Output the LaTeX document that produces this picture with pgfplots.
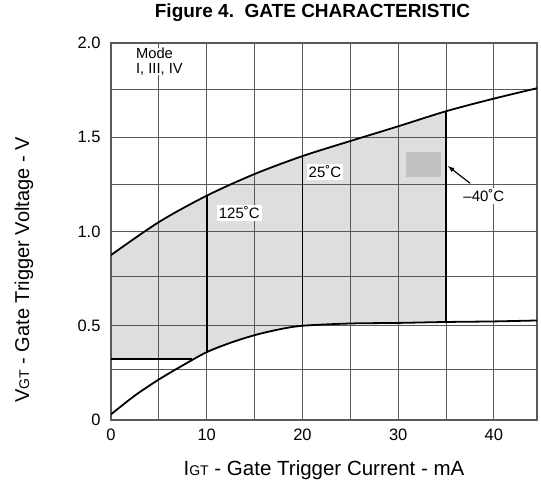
\documentclass[border=0pt]{standalone}
\usepackage{pgfplots}
\pgfplotsset{compat=1.18}
\usepackage{fontspec}
\setmainfont{Liberation Sans}
\begin{document}
\begin{tikzpicture}
\begin{axis}[
  at={(0,0)}, anchor=south west,
  set layers,
  scale only axis, width=426bp, height=377bp,
  xmin=0, xmax=44.5, ymin=0, ymax=2,
  xtick={0,10,20,30,40}, ytick={0,0.5,1,1.5,2},
  yticklabels={0,0.5,1.0,1.5,2.0},
  minor xtick={5,15,25,35},
  minor ytick={0.27,0.76,1.25,1.755},
  grid=both,
  major grid style={draw=black!65, line width=1.1pt},
  minor grid style={draw=black!65, line width=1.1pt},
  major tick length=0pt, minor tick length=0pt,
  axis line style={draw=black!65, line width=1.1pt},
  tick label style={font=\fontsize{16.5bp}{18bp}\selectfont},
  /pgf/number format/assume math mode=true,
  xticklabel style={yshift=-5bp},
  yticklabel style={xshift=-7bp},
]
% shaded region
\addplot[fill=black!13, draw=none, on layer=axis background] coordinates {
 (0,0.875) (5,1.05) (10,1.19) (15,1.305) (20,1.40) (25,1.48) (30,1.558) (35,1.638)
 (35,0.52) (30,0.515) (25,0.512) (20,0.50) (17.5,0.48) (15,0.45) (12.5,0.41) (10,0.36) (8.5,0.325) (0,0.325)
} -- cycle;
% darker patch
\addplot[fill=black!24, draw=none, on layer=axis background] coordinates {
 (30.8,1.29) (34.5,1.29) (34.5,1.42) (30.8,1.42)
} -- cycle;
% upper curve
\addplot[black, line width=1.8pt, smooth] coordinates {
 (0,0.875) (5,1.05) (10,1.19) (15,1.305) (20,1.40) (25,1.48) (30,1.558) (35,1.638) (40,1.705) (44.5,1.76)
};
% lower curve
\addplot[black, line width=1.8pt, smooth] coordinates {
 (0,0.03) (2.5,0.13) (5,0.215) (7.5,0.29) (10,0.36) (12.5,0.41) (15,0.45) (17.5,0.48) (20,0.50) (25,0.512) (30,0.515) (35,0.52) (40,0.523) (44.5,0.528)
};
% 0.33 line
\addplot[black, line width=1.8pt] coordinates {(0,0.325) (8.5,0.325)};
% vertical boundaries
\addplot[black, line width=1.8pt] coordinates {(10,0.36) (10,1.19)};
\addplot[black, line width=1.8pt] coordinates {(20,0.50) (20,1.40)};
\addplot[black, line width=1.8pt] coordinates {(35,0.52) (35,1.638)};
% labels
\node[fill=white, inner sep=2bp, font=\fontsize{15bp}{17bp}\selectfont] at (axis cs:13.4,1.10) {125˚C};
\node[fill=white, inner sep=2bp, font=\fontsize{15bp}{17bp}\selectfont] at (axis cs:22.35,1.316) {25˚C};
\node[fill=white, inner sep=2bp, font=\fontsize{15bp}{17bp}\selectfont] at (axis cs:38.95,1.19) {–40˚C};
\draw[-latex, line width=1.2pt] (axis cs:37.5,1.256) -- (axis cs:35.2,1.347);
\node[anchor=north west, align=left, inner sep=0pt, font=\fontsize{14.7bp}{14.5bp}\selectfont, fill=white] at (axis cs:2.6,1.975) {Mode\\I, III, IV};
\end{axis}
\node[font=\bfseries\fontsize{19bp}{21bp}\selectfont] at (201.5bp,407bp) {Figure 4.\ \ GATE CHARACTERISTIC};
\node[font=\fontsize{20.5bp}{22bp}\selectfont] at (213bp,-50bp) {I{\fontsize{14bp}{16bp}\selectfont GT} - Gate Trigger Current - mA};
\node[rotate=90, font=\fontsize{20bp}{22bp}\selectfont] at (-87bp,150bp) {V{\fontsize{14bp}{16bp}\selectfont GT} - Gate Trigger Voltage - V};
\pgfresetboundingbox
\path (-111bp,-70bp) rectangle (430bp,420bp);
\end{tikzpicture}
\end{document}
